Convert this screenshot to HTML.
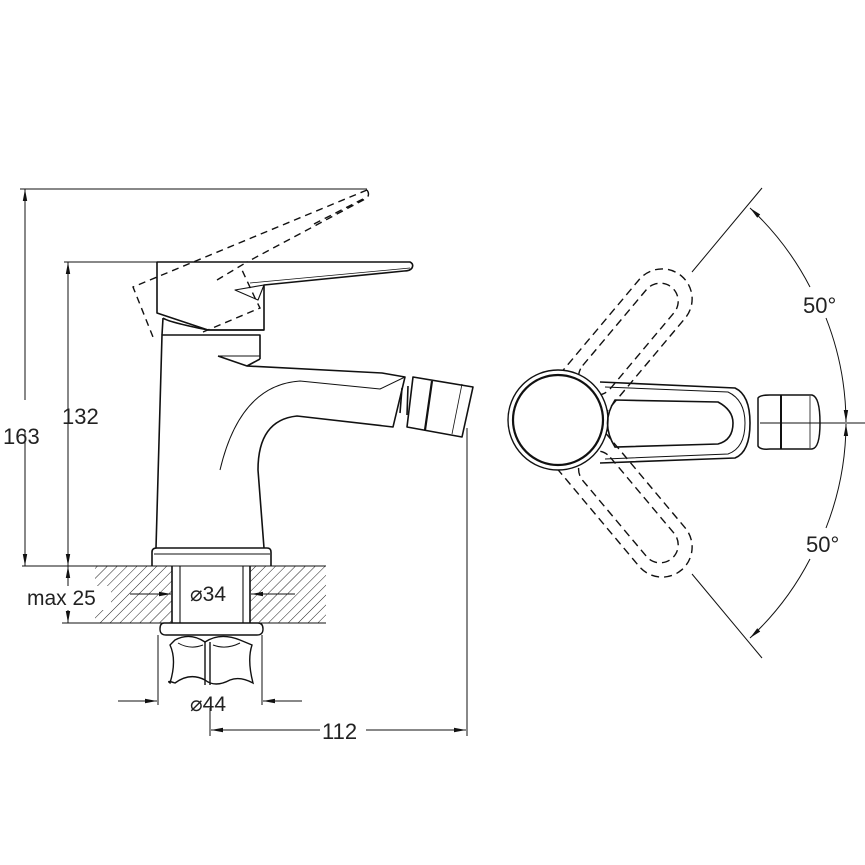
<!DOCTYPE html>
<html><head><meta charset="utf-8"><style>
html,body{margin:0;padding:0;background:#fff}
svg{display:block}
text{font-family:"Liberation Sans",sans-serif;fill:#222}
</style></head><body>
<svg width="865" height="865" viewBox="0 0 865 865" xmlns="http://www.w3.org/2000/svg">
<defs>
<pattern id="h" width="7" height="7" patternUnits="userSpaceOnUse" patternTransform="rotate(45)">
<line x1="0" y1="0" x2="0" y2="7" stroke="#222" stroke-width="1"/>
</pattern>
<marker id="a" markerWidth="12" markerHeight="6" refX="12" refY="3" orient="auto" markerUnits="userSpaceOnUse">
<path d="M0,0.8 L12,3 L0,5.2 Z" fill="#111"/>
</marker>
</defs>
<g fill="none" stroke="#111" stroke-width="1">
<line x1="20" y1="189" x2="367" y2="189"/>
<line x1="25" y1="566" x2="25" y2="189" marker-end="url(#a)"/>
<line x1="25" y1="189" x2="25" y2="566" marker-end="url(#a)"/>
<line x1="64" y1="262" x2="157" y2="262"/>
<line x1="68" y1="566" x2="68" y2="262" marker-end="url(#a)"/>
<line x1="68" y1="262" x2="68" y2="566" marker-end="url(#a)"/>
<line x1="68" y1="600" x2="68" y2="566" marker-end="url(#a)"/>
<line x1="68" y1="590" x2="68" y2="623" marker-end="url(#a)"/>
</g>
<rect x="2" y="400" width="50" height="30" fill="#fff"/>
<rect x="70" y="400" width="30" height="30" fill="#fff"/>
<text x="3" y="444" font-size="22">163</text>
<text x="62" y="424" font-size="22">132</text>

<rect x="95" y="566" width="77" height="57" fill="url(#h)"/>
<rect x="250" y="566" width="76" height="57" fill="url(#h)"/>
<g fill="none" stroke="#111" stroke-width="1.1">
<line x1="22" y1="566" x2="326" y2="566"/>
<line x1="62" y1="623" x2="326" y2="623"/>
<line x1="172" y1="566" x2="172" y2="623" stroke-width="1.6"/>
<line x1="180" y1="566" x2="180" y2="623"/>
<line x1="243" y1="566" x2="243" y2="623"/>
<line x1="250" y1="566" x2="250" y2="623" stroke-width="1.6"/>
<line x1="130" y1="594" x2="171" y2="594" stroke-width="0.9" marker-end="url(#a)"/>
<line x1="295" y1="594" x2="251" y2="594" stroke-width="0.9" marker-end="url(#a)"/>
</g>
<rect x="25" y="586" width="86" height="24" fill="#fff"/>
<rect x="183" y="580" width="58" height="26" fill="#fff"/>
<text x="27" y="605" font-size="21">max 25</text>
<text x="190" y="601" font-size="21">⌀34</text>

<g fill="none" stroke="#111" stroke-width="1.4">
<path d="M164,623 L258,623 Q263,623 263,629 Q263,635 257,635 L166,635 Q160,635 160,629 Q160,623 164,623Z"/>
<path d="M175,640 Q190,632 205,642 Q220,632 240,640 L252,645 Q247,660 253,683 Q240,676 230,680 Q215,688 205,680 Q190,672 175,683 Q166,680 170,683 Q177,660 170,645 Z"/>
<line x1="205" y1="642" x2="205" y2="685"/>
<line x1="210" y1="642" x2="210" y2="685"/>
<path d="M178,643 Q190,650 203,645 M213,645 Q226,650 240,643" stroke-width="1"/>
</g>
<g stroke="#111" stroke-width="1" fill="none">
<line x1="158" y1="635" x2="158" y2="705"/>
<line x1="262" y1="635" x2="262" y2="705"/>
<line x1="118" y1="701" x2="157" y2="701" marker-end="url(#a)"/>
<line x1="302" y1="701" x2="263" y2="701" marker-end="url(#a)"/>
<line x1="210" y1="708" x2="210" y2="736"/>
<line x1="467" y1="428" x2="467" y2="736"/>
<line x1="320" y1="730" x2="211" y2="730" marker-end="url(#a)"/>
<line x1="366" y1="730" x2="466" y2="730" marker-end="url(#a)"/>
</g>
<text x="190" y="711" font-size="21">⌀44</text>
<text x="322" y="739" font-size="22">112</text>

<g fill="none" stroke="#111" stroke-width="1.6" stroke-linejoin="round">
<path d="M152,566 L152,552 Q152,548 157,548 L267,548 Q271,548 271,552 L271,566"/>
<line x1="154" y1="554" x2="270" y2="554" stroke-width="1.1"/>
<path d="M156,548 L162,335 L260,335 L260,359"/>
<path d="M218,356 L247,366 L382,373 L405,377 L393,427 L297,416 Q258,420 258,470 L264,548"/>
<line x1="260" y1="359" x2="247" y2="366"/>
<path d="M218,356 L260,356" stroke-width="1.1"/>
<path d="M220,470 Q240,385 300,381 L380,389 L405,377" stroke-width="1"/>
<path d="M402,388 L400,413 M408,386 L407,415"/>
<path d="M413,377 L473,387 L462,437 L407,427 Z"/>
<line x1="432" y1="381" x2="425" y2="430" stroke-width="2.2"/>
<line x1="462" y1="384" x2="452" y2="434" stroke-width="0.8"/>
<path d="M163,318 L162,335 M163,318 Q168,322 208,330 L264,330"/>
<path d="M157,262 L410,262 Q414,264 412,268 Q410,271 404,271 L264,285 L264,330 L208,330 L157,313 Z"/>
<path d="M235,290 L264,285 L258,300 Z" stroke-width="1.1"/>
<path d="M250,283 L410,268" stroke-width="0.8"/>
</g>
<g fill="none" stroke="#111" stroke-width="1.4" stroke-dasharray="7,5">
<path d="M367,190 Q370,194 367,198 L307,230 L247,262"/>
<path d="M367,190 L133,287 L153,337"/>
<path d="M203,332 L260,308 L255,298 L242,270"/>
<path d="M217,280 L247,262 M363,199 L310,226"/>
</g>

<!-- TOP VIEW -->
<g fill="none" stroke="#111" stroke-width="1.4" stroke-dasharray="8,5">
<g transform="rotate(-50 558 423)">
<rect x="540" y="393" width="210" height="60" rx="30"/>
<rect x="600" y="405" width="135" height="36" rx="18"/>
</g>
<g transform="rotate(50 558 423)">
<rect x="540" y="393" width="210" height="60" rx="30"/>
<rect x="600" y="405" width="135" height="36" rx="18"/>
</g>
</g>
<g fill="none" stroke="#111" stroke-width="1.8">
<circle cx="558" cy="420" r="50" stroke-width="1.4" fill="#fff"/>
<circle cx="558" cy="420" r="45" stroke-width="2.2"/>
<path d="M600,382 L735,388 Q750,395 750,423 Q750,452 735,458 L600,463" stroke-width="1.6"/>
<path d="M605,387 L728,392 Q745,400 745,423 Q745,448 728,454 L605,459" stroke-width="1"/>
<path d="M615,400 L718,402 Q733,410 733,423 Q733,440 718,444 L615,447 Q600,423 615,400 Z" stroke-width="1.6"/>
<path d="M758,398 Q760,395 770,395 L812,395 Q820,397 820,423 Q820,448 812,449 L770,449 Q760,450 758,446 Z" stroke-width="1.5"/>
<line x1="781" y1="395" x2="781" y2="449" stroke-width="2"/>
<line x1="810" y1="396" x2="810" y2="448" stroke-width="0.8"/>
</g>
<g fill="none" stroke="#111" stroke-width="1">
<line x1="760" y1="423" x2="865" y2="423"/>
<line x1="692" y1="272" x2="762" y2="188"/>
<line x1="692" y1="574" x2="762" y2="658"/>
<path d="M810,287 A289 289 0 0 0 750,208" marker-end="url(#a)"/>
<path d="M826,318 A289 289 0 0 1 846,422" marker-end="url(#a)"/>
<path d="M826,528 A289 289 0 0 0 846,424" marker-end="url(#a)"/>
<path d="M810,559 A289 289 0 0 1 750,638" marker-end="url(#a)"/>
</g>
<text x="803" y="313" font-size="22">50°</text>
<text x="806" y="552" font-size="22">50°</text>
</svg>
</body></html>
